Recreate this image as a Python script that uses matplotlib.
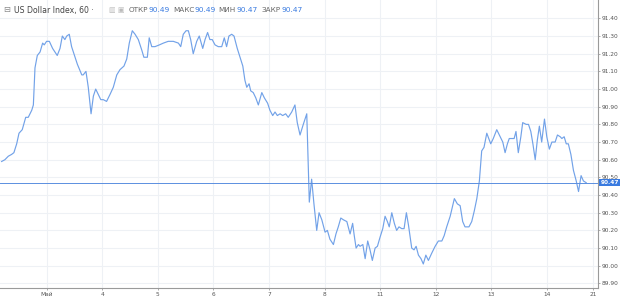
import numpy as np
import matplotlib.pyplot as plt
from matplotlib.transforms import blended_transform_factory

# hourly closes, time in hours from the "Май" tick (May 3, 00:00)
hours = [-19.4, -18.0, -16.5, -15.1, -14.1, -12.9, -11.9, -10.5, -9.0, -7.9,
         -6.4, -5.7, -5.0, -4.0, -2.8, -1.7, -1.0, 0.0, 1.2, 2.6,
         3.6, 4.6, 5.8, 6.8, 7.9, 8.7, 9.8, 10.8, 11.8, 13.3,
         15.2, 15.8, 17.0, 18.0, 19.2, 20.2, 21.2, 22.3, 23.4, 24.5,
         25.9, 27.4, 28.8, 30.3, 31.7, 33.4, 34.6, 35.7, 37.0, 38.2,
         39.6, 41.1, 42.0, 43.5, 44.3, 45.4, 46.8, 48.7, 50.4, 52.5,
         54.7, 56.9, 57.9, 59.0, 60.2, 61.2, 62.2, 63.3, 64.8, 65.9,
         67.4, 68.4, 69.5, 70.5, 71.5, 72.7, 74.1, 75.6, 76.7, 77.7,
         78.7, 79.9, 80.9, 82.3, 83.5, 84.7, 85.6, 86.4, 87.4, 88.1,
         89.2, 90.3, 91.4, 92.9, 94.0, 95.4, 96.4, 97.6, 98.6, 99.6,
         100.8, 101.9, 103.2, 104.3, 105.8, 107.2, 108.2, 109.4, 110.8, 112.3,
         113.4, 114.4, 115.4, 116.6, 117.6, 118.8, 120.2, 121.2, 122.3, 123.8,
         124.9, 125.9, 127.0, 128.1, 129.6, 131.0, 132.1, 132.8, 133.6, 134.6,
         135.3, 136.5, 137.5, 138.6, 139.6, 140.6, 141.8, 142.8, 143.9, 145.1,
         146.1, 147.1, 147.9, 149.0, 150.1, 151.1, 152.1, 153.3, 154.3, 155.3,
         156.2, 157.6, 158.6, 159.5, 160.5, 161.6, 162.6, 163.7, 164.8, 166.2,
         167.7, 169.1, 170.6, 171.6, 172.7, 174.2, 176.0, 177.3, 178.5, 179.6,
         180.6, 182.3, 183.5, 184.6, 185.7, 186.8, 187.8, 188.8, 190.0, 191.7,
         192.8, 194.3, 195.4, 196.9, 197.9, 198.9, 199.7, 200.8, 201.8, 202.6,
         203.6, 204.7, 205.5, 207.0, 208.0, 209.0, 209.9, 210.9, 211.8, 212.7,
         213.7, 214.9, 215.9, 217.0, 218.1, 219.5, 220.5, 221.7, 222.4, 223.4,
         224.3, 225.2, 226.3, 227.4, 228.6, 229.6, 230.7, 231.7, 232.9]
close = [90.59, 90.60, 90.62, 90.63, 90.64, 90.69, 90.75, 90.77, 90.84, 90.84,
         90.88, 90.91, 91.12, 91.19, 91.21, 91.26, 91.25, 91.27, 91.27, 91.23,
         91.21, 91.19, 91.23, 91.30, 91.28, 91.30, 91.31, 91.24, 91.20, 91.14,
         91.08, 91.08, 91.10, 91.01, 90.86, 90.96, 91.00, 90.97, 90.94, 90.94,
         90.93, 90.97, 91.01, 91.08, 91.11, 91.13, 91.17, 91.26, 91.33, 91.31,
         91.28, 91.22, 91.18, 91.18, 91.29, 91.24, 91.24, 91.25, 91.26, 91.27,
         91.27, 91.26, 91.24, 91.31, 91.33, 91.33, 91.28, 91.20, 91.27, 91.30,
         91.23, 91.28, 91.32, 91.28, 91.28, 91.25, 91.24, 91.24, 91.29, 91.24,
         91.30, 91.31, 91.30, 91.23, 91.18, 91.13, 91.05, 91.01, 91.03, 90.99,
         90.98, 90.95, 90.91, 90.98, 90.95, 90.92, 90.88, 90.85, 90.87, 90.85,
         90.86, 90.85, 90.86, 90.84, 90.87, 90.91, 90.81, 90.74, 90.80, 90.86,
         90.36, 90.49, 90.35, 90.20, 90.30, 90.26, 90.19, 90.20, 90.15, 90.12,
         90.18, 90.22, 90.27, 90.26, 90.25, 90.18, 90.24, 90.17, 90.10, 90.12,
         90.11, 90.12, 90.04, 90.14, 90.09, 90.03, 90.10, 90.11, 90.16, 90.21,
         90.28, 90.25, 90.22, 90.30, 90.24, 90.20, 90.22, 90.21, 90.21, 90.30,
         90.23, 90.10, 90.09, 90.11, 90.06, 90.04, 90.01, 90.06, 90.03, 90.07,
         90.11, 90.14, 90.14, 90.17, 90.22, 90.28, 90.38, 90.35, 90.34, 90.25,
         90.22, 90.22, 90.25, 90.31, 90.38, 90.48, 90.65, 90.67, 90.75, 90.69,
         90.72, 90.77, 90.74, 90.70, 90.64, 90.69, 90.72, 90.72, 90.72, 90.76,
         90.64, 90.73, 90.81, 90.80, 90.80, 90.76, 90.69, 90.60, 90.71, 90.79,
         90.70, 90.83, 90.73, 90.66, 90.70, 90.70, 90.74, 90.73, 90.72, 90.73,
         90.69, 90.69, 90.63, 90.54, 90.48, 90.42, 90.51, 90.48, 90.47]

last_close = 90.47
tick_hours = [0, 24, 48, 72, 96, 120, 144, 168, 192, 216, 236]
tick_labels = ["Май", "4", "5", "6", "7", "8", "11", "12", "13", "14", "21"]
price_ticks = np.arange(89.90, 91.41, 0.10)

line_color = "#72a2e8"
grid_color = "#eef1f5"
text_color = "#555555"

fig = plt.figure(figsize=(6.2, 3.0), dpi=100)
ax = fig.add_axes([0.0, 12 / 300, 598 / 620, 288 / 300])

ax.plot(hours, close, color=line_color, linewidth=0.85)
ax.axhline(last_close, color="#5b8fe0", linewidth=0.7)

ax.set_xlim(-20.1, 238.0)
ax.set_ylim(89.874, 91.504)

ax.set_yticks(price_ticks)
ax.set_yticklabels(["%.2f" % v for v in price_ticks])
ax.yaxis.tick_right()
ax.set_xticks(tick_hours)
ax.set_xticklabels(tick_labels)
ax.tick_params(axis="both", labelsize=4.2, colors="#888888", labelcolor=text_color,
               length=1.5, width=0.5, pad=1.2)

ax.grid(True, color=grid_color, linewidth=0.8)
ax.set_axisbelow(True)
for side in ["top", "left"]:
    ax.spines[side].set_visible(False)
for side in ["right", "bottom"]:
    ax.spines[side].set_color("#9a9a9a")
    ax.spines[side].set_linewidth(0.8)

# last price tag on the price scale
trans = blended_transform_factory(ax.transAxes, ax.transData)
ax.text(1.004, last_close, "90.47", transform=trans, fontsize=4.2, color="white",
        ha="left", va="center", fontweight="bold", clip_on=False,
        bbox=dict(boxstyle="square,pad=0.2", facecolor="#3a7be0", edgecolor="none"))

# legend header
hy = 1 - 10 / 300
fig.text(0.006, hy, "⊟", fontsize=6, color="#888888", va="center")
fig.text(0.022, hy, "US Dollar Index, 60 ·", fontsize=5.6, color="#444444", va="center")
fig.text(0.176, hy, "▥ ▣", fontsize=5, color="#bbbbbb", va="center")
header = [("ОТКР", "90.49", 0.207), ("МАКС", "90.49", 0.279),
          ("МИН", "90.47", 0.352), ("ЗАКР", "90.47", 0.422)]
for name, val, x in header:
    t = fig.text(x, hy, name, fontsize=5.2, color="#666666", va="center")
    fig.canvas.draw()
    bb = t.get_window_extent()
    fig.text(bb.x1 / fig.bbox.width + 0.001, hy, val, fontsize=5.4, color="#3a7be0", va="center")

fig.savefig("out.png", dpi=100)
